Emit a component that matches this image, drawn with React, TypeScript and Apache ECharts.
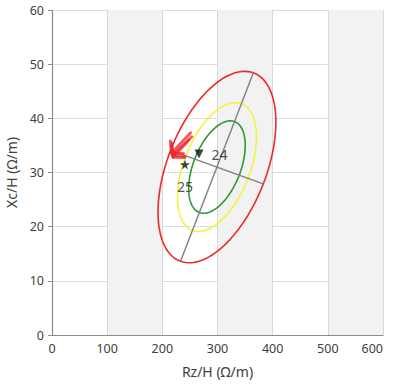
import React, { useEffect, useRef } from "react";
import * as echarts from "echarts";

// Ellipses: [centerX, centerY, majorEndX, majorEndY, minorEndX, minorEndY] (data units)
const redEllipse = [299, 31, 365, 48.4, 383, 27.9];
const yellowEllipse = [299, 31, 343.2, 42.7, 355.3, 28.9];
const greenEllipse = [299, 31, 330.7, 39.4, 339.3, 29.5];
const ellipseColors = ["#ec2a2a", "#f4f23c", "#2c9a35"];

// Gray axis lines of the ellipse
const majorAxisLine = [
  [233, 13.6],
  [365, 48.4],
];
const minorAxisLine = [
  [215, 34.1],
  [383, 27.9],
];

// Red arrows: [fromX, fromY, toX, toY]
const arrows = [
  [253.5, 36.6, 218, 33.2],
  [251, 37.3, 216.5, 33.6],
  [248, 36.0, 219.5, 32.8],
];

// Markers
const starPoints = [[241, 31.5]];
const starLabels = ["25"];
const trianglePoints = [[266.5, 33.4]];
const triangleLabels = ["24"];

const xMin = 0;
const xMax = 600;
const xInterval = 100;
const yMin = 0;
const yMax = 60;
const yInterval = 10;

const STAR =
  "path://M50,0 L61,35 L98,35 L68,57 L79,91 L50,70 L21,91 L32,57 L2,35 L39,35 Z";

const FONT = "'Noto Sans', 'Open Sans', sans-serif";

export default function App() {
  const ref = useRef<HTMLDivElement>(null);

  useEffect(() => {
    document.body.style.margin = "0";
    const chart = echarts.init(ref.current!, undefined, { renderer: "svg" });

    const ellipseRender = (params: any, api: any) => {
      const c = api.coord([api.value(0), api.value(1)]);
      const a = api.coord([api.value(2), api.value(3)]);
      const b = api.coord([api.value(4), api.value(5)]);
      const pts: number[][] = [];
      const N = 120;
      for (let i = 0; i <= N; i++) {
        const t = (2 * Math.PI * i) / N;
        pts.push([
          c[0] + Math.cos(t) * (a[0] - c[0]) + Math.sin(t) * (b[0] - c[0]),
          c[1] + Math.cos(t) * (a[1] - c[1]) + Math.sin(t) * (b[1] - c[1]),
        ]);
      }
      return {
        type: "polyline",
        shape: { points: pts },
        style: {
          fill: "none",
          stroke: ellipseColors[params.dataIndex],
          lineWidth: 1.6,
        },
      };
    };

    const arrowRender = (params: any, api: any) => {
      const p1 = api.coord([api.value(0), api.value(1)]);
      const p2 = api.coord([api.value(2), api.value(3)]);
      const ang = Math.atan2(p1[1] - p2[1], p1[0] - p2[0]);
      const L = 12;
      const b1 = [
        p2[0] + L * Math.cos(ang + 0.85),
        p2[1] + L * Math.sin(ang + 0.85),
      ];
      const b2 = [
        p2[0] + L * Math.cos(ang - 0.85),
        p2[1] + L * Math.sin(ang - 0.85),
      ];
      const style = {
        stroke: "rgba(236,40,40,0.75)",
        lineWidth: 3,
        fill: "none",
        lineCap: "round",
        lineJoin: "round",
      };
      return {
        type: "group",
        children: [
          {
            type: "line",
            shape: { x1: p1[0], y1: p1[1], x2: p2[0], y2: p2[1] },
            style,
          },
          {
            type: "polyline",
            shape: { points: [b1, p2, b2] },
            style,
          },
        ],
      };
    };

    chart.setOption({
      animation: false,
      grid: {
        left: 52,
        right: 25,
        top: 10,
        bottom: 49,
        containLabel: false,
        outerBoundsMode: "none",
      },
      xAxis: {
        type: "value",
        min: xMin,
        max: xMax,
        interval: xInterval,
        name: "Rz/H (Ω/m)",
        nameLocation: "middle",
        nameGap: 29,
        nameTextStyle: { color: "#404040", fontSize: 14, fontFamily: FONT },
        axisLine: { show: true, onZero: false, lineStyle: { color: "#8c8c8c", width: 1.2 } },
        axisTick: { show: false },
        axisLabel: {
          color: "#404040",
          fontSize: 12.5,
          fontFamily: FONT,
          margin: 7,
          alignMaxLabel: "right",
        },
        splitLine: { show: true, lineStyle: { color: "#d9d9d9", width: 1 } },
        splitArea: { show: true, areaStyle: { color: ["rgba(255,255,255,0)", "#f2f2f2"] } },
      },
      yAxis: {
        type: "value",
        min: yMin,
        max: yMax,
        interval: yInterval,
        name: "Xc/H (Ω/m)",
        nameLocation: "middle",
        nameGap: 32,
        nameTextStyle: { color: "#404040", fontSize: 14, fontFamily: FONT },
        axisLine: { show: true, onZero: false, lineStyle: { color: "#8c8c8c", width: 1.2 } },
        axisTick: { show: true, length: 4, lineStyle: { color: "#8c8c8c" } },
        axisLabel: { color: "#404040", fontSize: 12.5, fontFamily: FONT, margin: 8 },
        splitLine: { show: true, lineStyle: { color: "#dedede", width: 1 } },
      },
      series: [
        {
          type: "custom",
          renderItem: ellipseRender,
          data: [redEllipse, yellowEllipse, greenEllipse],
          silent: true,
          z: 2,
        },
        {
          type: "line",
          data: majorAxisLine,
          symbol: "none",
          lineStyle: { color: "#7f7f7f", width: 1.4 },
          z: 3,
        },
        {
          type: "line",
          data: minorAxisLine,
          symbol: "none",
          lineStyle: { color: "#7f7f7f", width: 1.4 },
          z: 3,
        },
        {
          type: "scatter",
          data: starPoints.map((p, i) => ({ value: p, name: starLabels[i] })),
          symbol: STAR,
          symbolSize: 10,
          itemStyle: { color: "#111" },
          label: {
            show: true,
            formatter: "{b}",
            position: "bottom",
            distance: 10,
            color: "#222",
            fontSize: 14,
            fontFamily: FONT,
          },
          z: 4,
        },
        {
          type: "scatter",
          data: trianglePoints.map((p, i) => ({ value: p, name: triangleLabels[i] })),
          symbol: "triangle",
          symbolRotate: 180,
          symbolSize: 9,
          itemStyle: { color: "#111" },
          label: {
            show: true,
            formatter: "{b}",
            position: "right",
            distance: 8,
            color: "#222",
            fontSize: 14,
            fontFamily: FONT,
          },
          z: 4,
        },
        {
          type: "custom",
          renderItem: arrowRender,
          data: arrows,
          silent: true,
          z: 5,
        },
      ],
    });

    return () => chart.dispose();
  }, []);

  return <div ref={ref} style={{ width: 408, height: 384 }} />;
}
